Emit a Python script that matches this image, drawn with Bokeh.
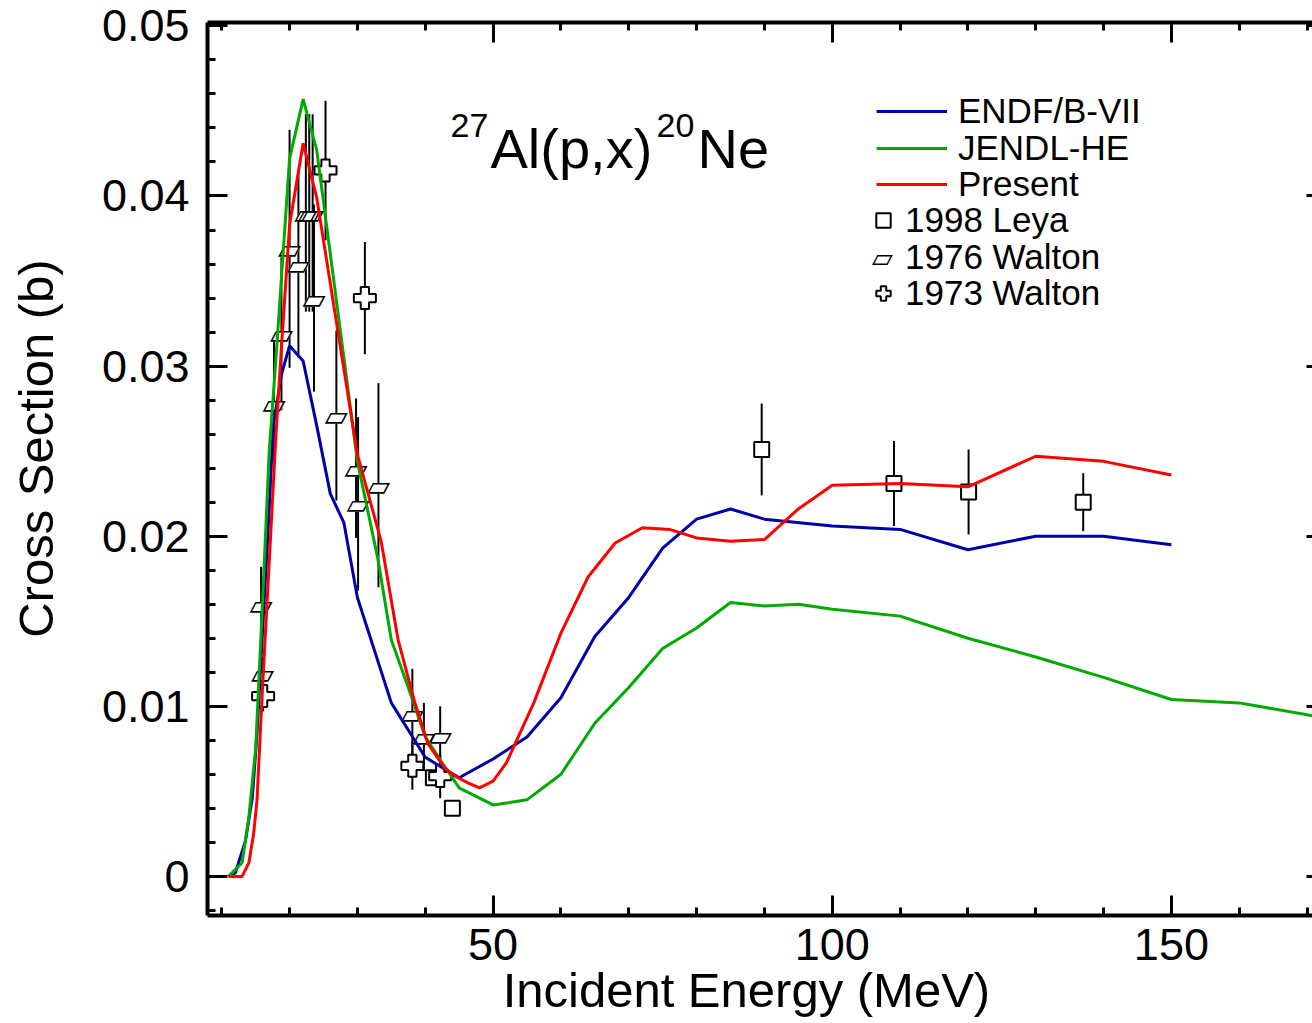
from bokeh.plotting import figure
from bokeh.models import (ColumnDataSource, FixedTicker, LinearAxis, Range1d, Legend,
                          LegendItem, Label, CustomJSTickFormatter)
from bokeh.core.properties import value
from bokeh.embed import file_html
from bokeh.resources import INLINE

# ---------------- data ----------------
endf_e = [11, 12, 13.5, 14.5, 15.2, 16, 16.8, 17.6, 18.8, 20, 22, 24, 26, 28, 30, 35, 40, 45,
          50, 55, 60, 65, 70, 75, 80, 85, 90, 100, 110, 120, 130, 140, 150]
endf_xs = [0, 0.0002, 0.0021, 0.0046, 0.0084, 0.0143, 0.0201, 0.0265, 0.0295, 0.0312, 0.0303,
           0.0265, 0.0225, 0.0208, 0.0164, 0.0102, 0.0070, 0.0058, 0.0069, 0.0082, 0.0105,
           0.0141, 0.0164, 0.0193, 0.0210, 0.0216, 0.0210, 0.0206, 0.0204, 0.0192, 0.0200,
           0.0200, 0.0195]

jendl_e = [11, 12, 13, 14, 15, 16, 17, 18, 20, 22, 24, 30, 33, 35, 37.5, 40, 42.3, 45, 50, 55,
           60, 65, 70, 75, 80, 85, 90, 95, 100, 110, 120, 130, 140, 150, 160, 170, 180]
jendl_xs = [0, 0.0004, 0.0008, 0.0035, 0.0075, 0.0160, 0.0250, 0.0305, 0.0422, 0.0457, 0.0427,
            0.0244, 0.0187, 0.0139, 0.0111, 0.0082, 0.0068, 0.0052, 0.0042, 0.0045, 0.0060,
            0.0090, 0.0111, 0.0134, 0.0146, 0.0161, 0.0159, 0.0160, 0.0157, 0.0153, 0.0140,
            0.0129, 0.0117, 0.0104, 0.0102, 0.0095, 0.0088]

pres_e = [11, 13, 14, 14.7, 15.2, 16, 17, 18, 18.8, 20, 22, 24, 30, 33.5, 36, 38.4, 40.4, 42.8,
          44.3, 46.3, 48, 50, 52, 56, 60, 64, 68, 72, 76, 80, 85, 90, 95, 100, 110, 120, 130,
          140, 150]
pres_xs = [0, 0, 0.0008, 0.0025, 0.0045, 0.0110, 0.0185, 0.0260, 0.0311, 0.0383, 0.0431, 0.0399,
           0.0248, 0.0197, 0.0139, 0.0103, 0.0078, 0.0064, 0.0059, 0.0055, 0.0052, 0.0056,
           0.0067, 0.0102, 0.0143, 0.0176, 0.0196, 0.0205, 0.0204, 0.0199, 0.0197, 0.0198,
           0.0216, 0.0230, 0.0231, 0.0229, 0.0247, 0.0244, 0.0236]

leya_e = [41.2, 44.0, 89.6, 109.1, 120.1, 137.0]
leya_xs = [0.0058, 0.0040, 0.0251, 0.0231, 0.0226, 0.0220]
leya_err = [0, 0, 0.0027, 0.0025, 0.0025, 0.0017]

w76_e = [15.8, 16.0, 17.7, 18.8, 20.0, 21.3, 22.4, 22.9, 23.4, 23.6, 26.9, 29.8, 30.1, 33.1,
         38.1, 39.8, 42.2]
w76_xs = [0.0160, 0.0119, 0.0278, 0.0319, 0.0369, 0.0360, 0.0390, 0.0390, 0.0390, 0.0340,
          0.0271, 0.0240, 0.0219, 0.0230, 0.0096, 0.0082, 0.0083]
w76_err = [0.0022, 0.0010, 0.0040, 0.0045, 0.0070, 0.0055, 0.0058, 0.0058, 0.0058, 0.0055,
           0.0050, 0.0041, 0.0051, 0.0060, 0.0026, 0.0020, 0.0017]

w73_e = [16.1, 25.3, 31.1, 38.1, 42.2]
w73_xs = [0.0106, 0.0415, 0.0340, 0.0065, 0.0059]
w73_err = [0.0009, 0.0041, 0.0033, 0.0014, 0.0013]

x_major = [50, 100, 150]
x_minor = list(range(10, 180, 10))
y_major = [0, 0.01, 0.02, 0.03, 0.04, 0.05]
y_minor = [round(i * 0.002, 3) for i in range(-1, 26)]

FONT = "Liberation Sans"
X0, X1 = 7.9, 170.8
Y0, Y1 = -0.0023, 0.0502
W, H = 1312, 1023
L, T, R, B = 207, 22, 1312, 915
NB = "\u00a0"


def dx(px):
    return X0 + (px - L) * (X1 - X0) / (R - L)


def dy(py):
    return Y1 - (py - T) * (Y1 - Y0) / (B - T)


p = figure(width=W, height=H, output_backend="svg", toolbar_location=None,
           x_range=Range1d(X0, X1), y_range=Range1d(Y0, Y1),
           x_axis_type=None, y_axis_type=None,
           min_border_left=L, min_border_right=0, min_border_top=T, min_border_bottom=H - B)
p.outline_line_color = None
p.xgrid.visible = False
p.ygrid.visible = False
p.background_fill_color = "white"
p.border_fill_color = "white"

empty = CustomJSTickFormatter(code="return ''")


def base_axis(ax, ticker, major_in=20, minor_in=8):
    ax.ticker = ticker
    ax.axis_line_width = 4
    ax.axis_line_color = "black"
    ax.major_tick_in = major_in
    ax.major_tick_out = 0
    ax.minor_tick_in = minor_in
    ax.minor_tick_out = 0
    ax.major_tick_line_width = 3
    ax.minor_tick_line_width = 3
    ax.major_label_text_font = FONT
    ax.major_label_text_font_size = "45px"
    ax.major_label_text_color = "black"
    ax.axis_label_text_font = FONT
    ax.axis_label_text_font_size = "49px"
    ax.axis_label_text_font_style = "normal"
    ax.axis_label_text_color = "black"


xt = FixedTicker(ticks=x_major, minor_ticks=x_minor)
yt = FixedTicker(ticks=y_major, minor_ticks=y_minor)

xb = LinearAxis(axis_label="Incident Energy (MeV)" + NB * 2)
base_axis(xb, xt)
xb.major_label_standoff = 13
xb.axis_label_standoff = 0
p.add_layout(xb, "below")

xa = LinearAxis(formatter=empty)
base_axis(xa, xt)
xa.major_label_standoff = 0
xa.major_label_text_font_size = "1px"
p.add_layout(xa, "above")

yl = LinearAxis(axis_label=NB * 3 + "Cross Section (b)",
                formatter=CustomJSTickFormatter(code="return tick == 0 ? '0' : tick.toFixed(2)"))
base_axis(yl, yt)
yl.major_label_standoff = 18
yl.axis_label_standoff = 36
p.add_layout(yl, "left")

yr = LinearAxis(formatter=empty)
base_axis(yr, yt, major_in=6, minor_in=0)
yr.axis_line_color = None
yr.major_label_standoff = 0
yr.major_label_text_font_size = "1px"
p.add_layout(yr, "right")

# ---------------- experimental data ----------------
s_leya = ColumnDataSource(dict(x=leya_e, y=leya_xs,
                               lo=[a - b for a, b in zip(leya_xs, leya_err)],
                               hi=[a + b for a, b in zip(leya_xs, leya_err)]))
s_76 = ColumnDataSource(dict(x=w76_e, y=w76_xs,
                             lo=[a - b for a, b in zip(w76_xs, w76_err)],
                             hi=[a + b for a, b in zip(w76_xs, w76_err)]))
s_73 = ColumnDataSource(dict(x=w73_e, y=w73_xs,
                             lo=[a - b for a, b in zip(w73_xs, w73_err)],
                             hi=[a + b for a, b in zip(w73_xs, w73_err)]))

for s in (s_leya, s_76, s_73):
    p.segment(x0="x", y0="lo", x1="x", y1="hi", source=s, line_color="black", line_width=2)

PAR = "30px"
p.text(x="x", y="y", text=value("\u25b0"), source=s_76, text_font=value("DejaVu Sans"),
       text_font_size=PAR, text_align="center", text_baseline="middle", text_color="white")
r76 = p.text(x="x", y="y", text=value("\u25b1"), source=s_76, text_font=value("DejaVu Sans"),
             text_font_size=PAR, text_align="center", text_baseline="middle",
             text_color="black")
r98 = p.scatter(x="x", y="y", source=s_leya, marker="square", size=15, fill_color="white",
                line_color="black", line_width=2)
r73 = p.scatter(x="x", y="y", source=s_73, marker="plus", size=22, fill_color="white",
                line_color="black", line_width=2)

# ---------------- evaluations ----------------
rb = p.line(endf_e, endf_xs, line_color="#0000AA", line_width=3)
rg = p.line(jendl_e, jendl_xs, line_color="#00AA00", line_width=3)
rr = p.line(pres_e, pres_xs, line_color="#FF0000", line_width=3)

# ---------------- legend (one row per Legend so rows can sit ~36 px apart) ----------------
rows = [("ENDF/B-VII", rb, 111, 876, 71, 30, 11),
        ("JENDL-HE", rg, 148, 876, 71, 30, 11),
        ("Present", rr, 184, 876, 71, 30, 11),
        ("1998 Leya", r98, 220, 865, 36, 36, 4),
        ("1976 Walton", r76, 257, 865, 36, 36, 4),
        ("1973 Walton", r73, 293, 865, 36, 36, 4)]
for lab, rend, cy, gx, gw, gh, st in rows:
    p.add_layout(Legend(items=[LegendItem(label=lab, renderers=[rend])],
                        location=(gx - L, B - cy - 20), glyph_width=gw, glyph_height=gh,
                        label_standoff=st, label_text_font=FONT, label_text_font_size="35px",
                        label_text_color="black", padding=0, margin=0,
                        border_line_color=None, background_fill_alpha=0))
p.add_layout(Label(x=dx(882), y=dy(257), text="\u25b1", text_font="DejaVu Sans",
                   text_font_size="27px", text_align="center", text_baseline="middle",
                   text_color="black"))

# ---------------- title ----------------
big, small = "56px", "34px"
for txt, px, py, fs in [("27", 450, 125, small), ("Al(p,x)", 490, 148, big),
                        ("20", 656, 125, small), ("Ne", 697, 148, big)]:
    p.add_layout(Label(x=dx(px), y=dy(py), text=txt, text_font=FONT, text_font_size=fs,
                       text_baseline="alphabetic", text_align="left", text_color="black"))

open("out.html", "w").write(file_html(p, INLINE))
